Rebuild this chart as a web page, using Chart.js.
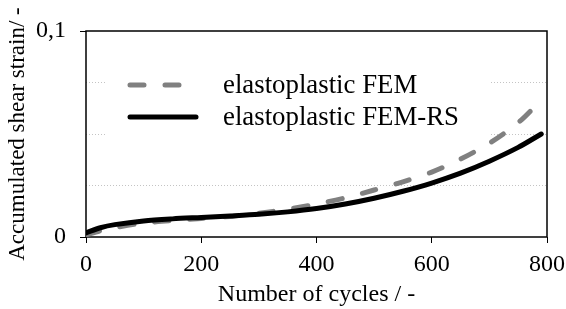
<!DOCTYPE html>
<html>
<head>
<meta charset="utf-8">
<script src="https://cdn.jsdelivr.net/npm/chart.js@4"></script>
<style>
  html, body { margin: 0; padding: 0; background: #fff; }
  #wrap { width: 566px; height: 309px; }
</style>
</head>
<body>
<div id="wrap"><canvas id="strainChart" width="566" height="309"></canvas></div>
<script>
// accumulated shear strain vs number of cycles

const cycles      = [0, 25, 50, 100, 150, 200, 250, 300, 350, 400, 450, 500, 550, 600, 650, 700, 750, 790];
const femStrain   = [0.001, 0.003, 0.0045, 0.0068, 0.0080, 0.0090, 0.0100, 0.0115, 0.0135, 0.0160, 0.0190, 0.0228, 0.0268, 0.0315, 0.0378, 0.0455, 0.0555, 0.0665];
const femRsStrain = [0.002, 0.0045, 0.0060, 0.0078, 0.0088, 0.0095, 0.0102, 0.0110, 0.0122, 0.0138, 0.0160, 0.0188, 0.0222, 0.0262, 0.0310, 0.0368, 0.0435, 0.0500];

const seriesNames = ['elastoplastic FEM', 'elastoplastic FEM-RS'];
const yTickLabels = { 0: '0', 0.1: '0,1' };

const FONT = "'Liberation Serif', 'Times New Roman', serif";

function toPoints(ys) {
    return cycles.map((c, i) => ({ x: c, y: ys[i] }));
}

function isLabelled(v) {
    return Math.abs(v) < 1e-9 || Math.abs(v - 0.1) < 1e-9;
}

// frame around plot area + legend box inside it
const framePlugin = {
    id: 'frame',
    beforeDatasetsDraw(chart) {
        const { ctx, chartArea: a } = chart;
        ctx.save();
        // legend background hides the grid lines
        ctx.fillStyle = '#fff';
        ctx.fillRect(107, 62, 383, 80);
        ctx.strokeStyle = '#000';
        ctx.lineWidth = 1.5;
        ctx.strokeRect(a.left, a.top, a.right - a.left, a.bottom - a.top);
        ctx.restore();
    },
    afterDatasetsDraw(chart) {
        const ctx = chart.ctx;
        const items = chart.data.datasets;
        ctx.save();
        items.forEach((ds, i) => {
            const y = 85 + i * 32;
            ctx.beginPath();
            ctx.strokeStyle = ds.borderColor;
            ctx.lineWidth = ds.borderWidth;
            ctx.lineCap = 'round';
            ctx.setLineDash(ds.borderDash || []);
            ctx.moveTo(130, y);
            ctx.lineTo(ds.borderDash ? 182 : 196, y);
            ctx.stroke();
            ctx.setLineDash([]);
            ctx.fillStyle = '#000';
            ctx.font = '26.8px ' + FONT;
            ctx.textBaseline = 'middle';
            ctx.fillText(ds.label, 223, y + 1);
        });
        ctx.restore();
    }
};

new Chart(document.getElementById('strainChart'), {
    type: 'line',
    data: {
        datasets: [
            {
                label: seriesNames[0],
                data: toPoints(femStrain),
                borderColor: '#808080',
                borderWidth: 5,
                borderDash: [14, 21],
                borderCapStyle: 'round',
                tension: 0.3,
                pointRadius: 0,
                order: 1
            },
            {
                label: seriesNames[1],
                data: toPoints(femRsStrain),
                borderColor: '#000',
                borderWidth: 5,
                borderCapStyle: 'round',
                tension: 0.3,
                pointRadius: 0,
                order: 0
            }
        ]
    },
    options: {
        responsive: false,
        animation: false,
        layout: { padding: 0 },
        plugins: {
            legend: { display: false },
            tooltip: { enabled: false }
        },
        scales: {
            x: {
                type: 'linear',
                min: 0,
                max: 800,
                ticks: { stepSize: 200, color: '#000', font: { family: FONT, size: 24 }, padding: 7, maxRotation: 0 },
                grid: { drawOnChartArea: false, tickLength: 6, tickColor: '#000' },
                border: { display: false },
                title: { display: true, text: 'Number of cycles / -', color: '#000', font: { family: FONT, size: 24 }, padding: { top: 0, bottom: 0 } },
                afterFit: (s) => { s.height = 72; s.paddingRight = 19; s.paddingLeft = 0; }
            },
            y: {
                min: 0,
                max: 0.1,
                ticks: {
                    stepSize: 0.025,
                    color: '#000',
                    font: { family: FONT, size: 24 },
                    padding: 14,
                    callback: (v) => {
                        if (Math.abs(v) < 1e-9) return yTickLabels[0];
                        if (Math.abs(v - 0.1) < 1e-9) return yTickLabels[0.1];
                        return '';
                    }
                },
                grid: {
                    color: (c) => isLabelled(c.tick.value) ? 'rgba(0,0,0,0)' : '#c4c4c4',
                    tickColor: (c) => isLabelled(c.tick.value) ? '#000' : 'rgba(0,0,0,0)',
                    tickLength: 6,
                    lineWidth: 1
                },
                border: { display: false, dash: [1, 2] },
                title: { display: true, text: 'Accumulated shear strain/ -', color: '#000', font: { family: FONT, size: 23 }, padding: { top: 4, bottom: 0 } },
                afterFit: (s) => { s.width = 86; s.paddingTop = 31; s.paddingBottom = 0; }
            }
        }
    },
    plugins: [framePlugin]
});
</script>
</body>
</html>
